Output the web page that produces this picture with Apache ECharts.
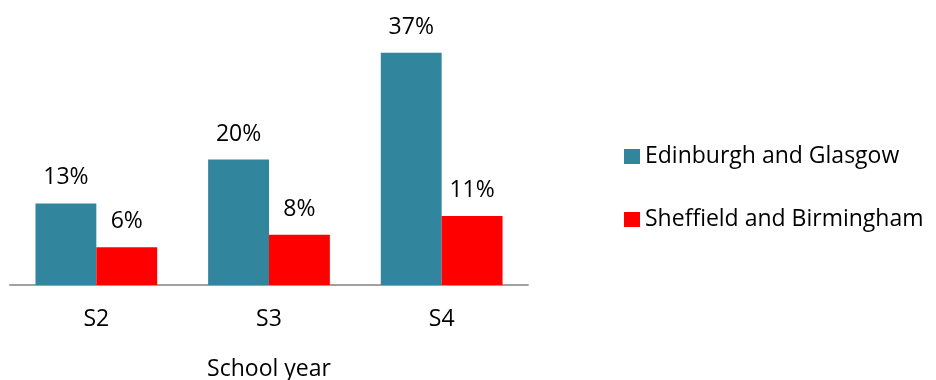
<!DOCTYPE html>
<html>
<head>
<meta charset="utf-8">
<style>
  html, body { margin: 0; padding: 0; background: #ffffff; }
  #chart { width: 936px; height: 380px; }
</style>
<script src="https://cdn.jsdelivr.net/npm/echarts@6/dist/echarts.min.js"></script>
</head>
<body>
<div id="chart"></div>
<script>
// School years on the category axis
const schoolYears = ['S2', 'S3', 'S4'];

// Share of pupils (%) by city pair
const edinburghGlasgow = [13, 20, 37];
const sheffieldBirmingham = [6, 8, 11];

const seriesNames = ['Edinburgh and Glasgow', 'Sheffield and Birmingham'];
const seriesColors = ['#31859c', '#ff0000'];

const FONT = '"Open Sans", Lato, sans-serif';
const FONT_SIZE = 23;

const chart = echarts.init(document.getElementById('chart'), null, { renderer: 'canvas' });

const valueLabel = {
  show: true,
  position: 'top',
  distance: 14,
  formatter: p => p.value + '%',
  fontFamily: FONT,
  fontSize: FONT_SIZE,
  color: '#000000'
};

chart.setOption({
  animation: false,
  backgroundColor: '#ffffff',
  grid: {
    left: 10, right: 408, top: 34, bottom: 95,
    containLabel: false,
    outerBoundsMode: 'none'
  },
  legend: {
    orient: 'vertical',
    left: 619,
    top: 138,
    itemWidth: 16,
    itemHeight: 15,
    itemGap: 36,
    itemStyle: { borderWidth: 0 },
    icon: 'rect',
    textStyle: { fontFamily: FONT, fontSize: FONT_SIZE, color: '#000000', lineHeight: 27, padding: [0, 0, 0, 0] },
    data: seriesNames
  },
  xAxis: {
    type: 'category',
    data: schoolYears,
    axisLine: { show: true, lineStyle: { color: '#a0a0a0', width: 2 } },
    axisTick: { show: false },
    axisLabel: { fontFamily: FONT, fontSize: FONT_SIZE, color: '#000000', margin: 23 },
    name: 'School year',
    nameLocation: 'middle',
    nameGap: 73,
    nameTextStyle: { fontFamily: FONT, fontSize: FONT_SIZE, color: '#000000' }
  },
  yAxis: {
    type: 'value',
    min: 0,
    max: 40,
    show: false,
    splitLine: { show: false }
  },
  series: [
    {
      name: seriesNames[0],
      type: 'bar',
      data: edinburghGlasgow,
      barGap: '0%',
      barCategoryGap: '29.5%',
      itemStyle: { color: seriesColors[0] },
      label: valueLabel
    },
    {
      name: seriesNames[1],
      type: 'bar',
      data: sheffieldBirmingham,
      barGap: '0%',
      barCategoryGap: '29.5%',
      itemStyle: { color: seriesColors[1] },
      label: valueLabel
    }
  ]
});
</script>
</body>
</html>
